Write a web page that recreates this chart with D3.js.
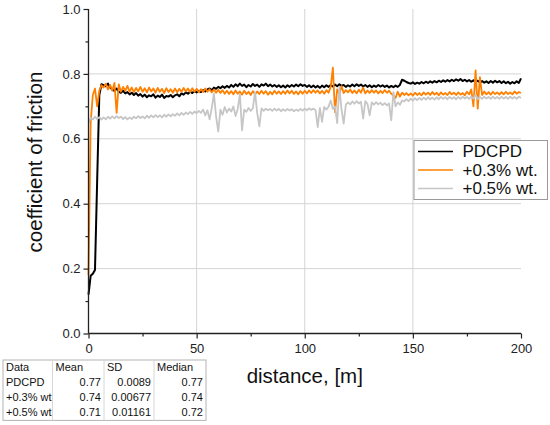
<!DOCTYPE html>
<html>
<head>
<meta charset="utf-8">
<script src="https://cdn.jsdelivr.net/npm/d3@7"></script>
<style>
  body { margin: 0; background: #fff; }
  svg { display: block; font-family: "Liberation Sans", Arial, sans-serif; }
</style>
</head>
<body>
<svg id="chart"></svg>
<script>
// sliding distance, one sample per metre
var distance = d3.range(0, 201);

var seriesNames = ["PDCPD", "+0.3% wt.", "+0.5% wt."];

var pdcpd = [
  0.120, 0.178, 0.184, 0.196, 0.470, 0.735, 0.768, 0.765, 0.762, 0.770,
  0.758, 0.752, 0.748, 0.755, 0.745, 0.742, 0.748, 0.740, 0.744, 0.737,
  0.742, 0.735, 0.741, 0.733, 0.738, 0.730, 0.736, 0.728, 0.734, 0.731,
  0.737, 0.727, 0.733, 0.729, 0.736, 0.726, 0.732, 0.730, 0.735, 0.728,
  0.734, 0.737, 0.731, 0.740, 0.736, 0.743, 0.739, 0.745, 0.741, 0.747,
  0.743, 0.748, 0.744, 0.750, 0.746, 0.752, 0.755, 0.750, 0.758, 0.754,
  0.760, 0.756, 0.762, 0.757, 0.763, 0.758, 0.766, 0.760, 0.768, 0.762,
  0.770, 0.763, 0.767, 0.759, 0.766, 0.761, 0.769, 0.763, 0.767, 0.760,
  0.768, 0.764, 0.770, 0.762, 0.767, 0.761, 0.766, 0.760, 0.765, 0.759,
  0.764, 0.758, 0.765, 0.760, 0.766, 0.761, 0.767, 0.762, 0.768, 0.763,
  0.766, 0.760, 0.765, 0.759, 0.764, 0.758, 0.763, 0.757, 0.764, 0.759,
  0.765, 0.760, 0.766, 0.761, 0.767, 0.762, 0.768, 0.763, 0.766, 0.760,
  0.765, 0.761, 0.767, 0.762, 0.768, 0.763, 0.767, 0.761, 0.766, 0.760,
  0.765, 0.759, 0.764, 0.760, 0.766, 0.761, 0.765, 0.760, 0.764, 0.758,
  0.763, 0.759, 0.764, 0.760, 0.766, 0.782, 0.779, 0.775, 0.772, 0.770,
  0.774, 0.769, 0.773, 0.770, 0.775, 0.771, 0.776, 0.772, 0.777, 0.773,
  0.778, 0.774, 0.779, 0.775, 0.780, 0.776, 0.781, 0.777, 0.782, 0.778,
  0.783, 0.779, 0.784, 0.778, 0.782, 0.777, 0.781, 0.776, 0.780, 0.775,
  0.779, 0.774, 0.778, 0.773, 0.777, 0.772, 0.778, 0.773, 0.779, 0.774,
  0.778, 0.772, 0.777, 0.771, 0.776, 0.770, 0.775, 0.771, 0.777, 0.772,
  0.786
];

var wt03 = [
  0.180, 0.650, 0.735, 0.755, 0.700, 0.748, 0.765, 0.758, 0.770, 0.752,
  0.766, 0.748, 0.772, 0.680, 0.768, 0.745, 0.760, 0.748, 0.763, 0.745,
  0.758, 0.744, 0.757, 0.746, 0.760, 0.745, 0.756, 0.743, 0.758, 0.746,
  0.755, 0.742, 0.757, 0.745, 0.754, 0.741, 0.756, 0.744, 0.753, 0.742,
  0.755, 0.743, 0.754, 0.745, 0.757, 0.746, 0.755, 0.744, 0.756, 0.745,
  0.754, 0.743, 0.753, 0.744, 0.755, 0.745, 0.753, 0.743, 0.752, 0.742,
  0.751, 0.741, 0.750, 0.739, 0.748, 0.738, 0.747, 0.737, 0.749, 0.739,
  0.746, 0.736, 0.748, 0.738, 0.745, 0.735, 0.747, 0.737, 0.746, 0.738,
  0.748, 0.739, 0.747, 0.736, 0.745, 0.737, 0.748, 0.739, 0.746, 0.738,
  0.747, 0.739, 0.749, 0.740, 0.748, 0.738, 0.746, 0.737, 0.747, 0.739,
  0.748, 0.740, 0.749, 0.741, 0.750, 0.742, 0.749, 0.740, 0.748, 0.739,
  0.750, 0.742, 0.760, 0.819, 0.682, 0.752, 0.738, 0.762, 0.741, 0.750,
  0.743, 0.752, 0.741, 0.749, 0.740, 0.751, 0.742, 0.758, 0.740, 0.749,
  0.741, 0.750, 0.742, 0.749, 0.740, 0.748, 0.741, 0.750, 0.742, 0.748,
  0.739, 0.733, 0.726, 0.745, 0.730, 0.742, 0.735, 0.741, 0.734, 0.740,
  0.733, 0.742, 0.735, 0.741, 0.734, 0.743, 0.736, 0.742, 0.735, 0.744,
  0.736, 0.742, 0.734, 0.743, 0.736, 0.741, 0.735, 0.744, 0.737, 0.742,
  0.735, 0.743, 0.736, 0.741, 0.734, 0.745, 0.737, 0.752, 0.700, 0.811,
  0.693, 0.790, 0.735, 0.746, 0.737, 0.744, 0.736, 0.745, 0.738, 0.743,
  0.736, 0.744, 0.737, 0.745, 0.738, 0.743, 0.737, 0.746, 0.739, 0.744,
  0.741
];

var wt05 = [
  0.648, 0.665, 0.660, 0.668, 0.661, 0.667, 0.659, 0.666, 0.660, 0.668,
  0.662, 0.669, 0.663, 0.670, 0.664, 0.668, 0.661, 0.667, 0.660, 0.666,
  0.661, 0.668, 0.663, 0.670, 0.664, 0.669, 0.663, 0.671, 0.665, 0.672,
  0.666, 0.673, 0.667, 0.672, 0.666, 0.674, 0.668, 0.675, 0.669, 0.676,
  0.671, 0.678, 0.672, 0.680, 0.674, 0.681, 0.676, 0.683, 0.677, 0.684,
  0.679, 0.686, 0.680, 0.690, 0.672, 0.688, 0.660, 0.695, 0.739, 0.668,
  0.622, 0.690, 0.674, 0.698, 0.681, 0.693, 0.684, 0.700, 0.670, 0.692,
  0.738, 0.626, 0.690, 0.683, 0.695, 0.686, 0.694, 0.744, 0.680, 0.638,
  0.694, 0.686, 0.693, 0.688, 0.692, 0.686, 0.693, 0.687, 0.692, 0.685,
  0.691, 0.686, 0.692, 0.687, 0.691, 0.685, 0.690, 0.686, 0.692, 0.687,
  0.693, 0.688, 0.694, 0.689, 0.693, 0.688, 0.636, 0.695, 0.652, 0.698,
  0.690, 0.699, 0.718, 0.692, 0.700, 0.648, 0.759, 0.690, 0.647, 0.705,
  0.712, 0.706, 0.715, 0.708, 0.716, 0.709, 0.714, 0.662, 0.716, 0.708,
  0.672, 0.712, 0.705, 0.713, 0.706, 0.711, 0.704, 0.710, 0.703, 0.709,
  0.657, 0.744, 0.700, 0.712, 0.705, 0.718, 0.715, 0.722, 0.716, 0.724,
  0.718, 0.725, 0.719, 0.726, 0.720, 0.727, 0.721, 0.728, 0.722, 0.727,
  0.721, 0.728, 0.722, 0.729, 0.723, 0.728, 0.722, 0.729, 0.723, 0.728,
  0.722, 0.729, 0.723, 0.730, 0.724, 0.729, 0.723, 0.730, 0.724, 0.736,
  0.722, 0.729, 0.723, 0.730, 0.724, 0.729, 0.723, 0.730, 0.724, 0.729,
  0.723, 0.730, 0.724, 0.729, 0.723, 0.730, 0.724, 0.729, 0.723, 0.730,
  0.726
];

var xTicks = [0, 50, 100, 150, 200];
var xMinorTicks = [25, 75, 125, 175];
var yTicks = [0.0, 0.2, 0.4, 0.6, 0.8, 1.0];
var yMinorTicks = [0.1, 0.3, 0.5, 0.7, 0.9];

// summary table under the axis
var tableHeader = ["Data", "Mean", "SD", "Median"];
var tableNames = ["PDCPD", "+0.3% wt", "+0.5% wt"];
var tableMean = ["0.77", "0.74", "0.71"];
var tableSD = ["0.0089", "0.00677", "0.01161"];
var tableMedian = ["0.77", "0.74", "0.72"];

var width = 550, height = 425;
var plotLeft = 88.5, plotRight = 521, plotTop = 9, plotBottom = 333.5;
var colors = ["#000000", "#ff8000", "#c6c6c6"];

var svg = d3.select("#chart").attr("width", width).attr("height", height);

var x = d3.scaleLinear().domain([0, 200]).range([plotLeft, plotRight]);
var y = d3.scaleLinear().domain([0, 1]).range([plotBottom, plotTop]);

// grid
svg.append("g").selectAll("line").data([50, 100, 150]).enter().append("line")
    .attr("x1", function (d) { return x(d); }).attr("x2", function (d) { return x(d); })
    .attr("y1", plotTop).attr("y2", plotBottom)
    .style("stroke", "#d4d4d4").style("stroke-width", 1);
svg.append("g").selectAll("line").data([0.2, 0.4, 0.6, 0.8]).enter().append("line")
    .attr("x1", plotLeft).attr("x2", plotRight)
    .attr("y1", function (d) { return y(d); }).attr("y2", function (d) { return y(d); })
    .style("stroke", "#d4d4d4").style("stroke-width", 1);

// data lines
var line = d3.line()
    .x(function (d, i) { return x(distance[i]); })
    .y(function (d) { return y(d); });

var allSeries = [pdcpd, wt03, wt05];
for (var i = 0; i < allSeries.length; i++) {
    svg.append("path")
        .datum(allSeries[i])
        .attr("d", line)
        .style("fill", "none")
        .style("stroke", colors[i])
        .style("stroke-width", i == 0 ? 2 : 1.8)
        .style("stroke-linejoin", "round");
}

// axes
var xAxis = svg.append("g").attr("transform", "translate(0," + plotBottom + ")")
    .call(d3.axisBottom(x).tickValues(xTicks).tickSize(5).tickPadding(5)
        .tickFormat(d3.format("d")));
svg.append("g").attr("transform", "translate(0," + plotBottom + ")")
    .call(d3.axisBottom(x).tickValues(xMinorTicks).tickSize(3).tickFormat(""))
    .select(".domain").remove();

var yAxis = svg.append("g").attr("transform", "translate(" + plotLeft + ",0)")
    .call(d3.axisLeft(y).tickValues(yTicks).tickSize(5).tickPadding(3)
        .tickFormat(d3.format(".1f")));
svg.append("g").attr("transform", "translate(" + plotLeft + ",0)")
    .call(d3.axisLeft(y).tickValues(yMinorTicks).tickSize(3).tickFormat(""))
    .select(".domain").remove();

svg.selectAll(".domain").remove();
xAxis.append("line").attr("x1", plotLeft).attr("x2", plotRight).attr("y1", 0).attr("y2", 0)
    .style("stroke", "#222").style("stroke-width", 1.3);
yAxis.append("line").attr("x1", 0).attr("x2", 0).attr("y1", plotTop).attr("y2", plotBottom)
    .style("stroke", "#222").style("stroke-width", 1.3);
svg.selectAll(".tick line").style("stroke", "#222").style("stroke-width", 1.2);
svg.selectAll(".tick text").style("font-size", "13px").style("fill", "#222")
    .style("font-family", "Liberation Sans, Arial, sans-serif");

// axis titles
svg.append("text")
    .attr("x", (plotLeft + plotRight) / 2).attr("y", 383)
    .attr("text-anchor", "middle")
    .style("font-size", "20.5px").style("fill", "#111")
    .text("distance, [m]");
svg.append("text")
    .attr("transform", "translate(41.5,162) rotate(-90)")
    .attr("text-anchor", "middle")
    .style("font-size", "20.5px").style("fill", "#111")
    .text("coefficient of friction");

// legend
var legend = svg.append("g").attr("transform", "translate(414,140.5)");
legend.append("rect").attr("width", 133.5).attr("height", 59)
    .style("fill", "#fff").style("stroke", "#9a9a9a").style("stroke-width", 1);
for (var k = 0; k < seriesNames.length; k++) {
    var ly = 11 + k * 18.5;
    legend.append("line").attr("x1", 4).attr("x2", 39).attr("y1", ly).attr("y2", ly)
        .style("stroke", colors[k]).style("stroke-width", 1.5);
    legend.append("text").attr("x", 48.5).attr("y", ly + 5.5)
        .style("font-size", "17px").style("fill", "#111")
        .text(seriesNames[k]);
}

// stats table
var colX = [3, 52.5, 104, 154, 206];
var rowH = 15.1;
var table = svg.append("g").attr("transform", "translate(0,360)");
table.append("rect").attr("x", colX[0]).attr("y", 0)
    .attr("width", colX[4] - colX[0]).attr("height", rowH * 4)
    .style("fill", "#fff").style("stroke", "#b4b4b4").style("stroke-width", 1);
for (var c = 1; c < 4; c++) {
    table.append("line").attr("x1", colX[c]).attr("x2", colX[c])
        .attr("y1", 0).attr("y2", rowH * 4)
        .style("stroke", "#d8d8d8").style("stroke-width", 1);
}
var tableCols = [tableNames, tableMean, tableSD, tableMedian];
for (var c = 0; c < 4; c++) {
    table.append("text").attr("x", colX[c] + 3).attr("y", 11)
        .style("font-size", "11px").style("fill", "#111")
        .text(tableHeader[c]);
    for (var r = 0; r < tableNames.length; r++) {
        table.append("text")
            .attr("x", c == 0 ? colX[c] + 3 : colX[c + 1] - 3)
            .attr("y", 11 + (r + 1) * rowH)
            .attr("text-anchor", c == 0 ? "start" : "end")
            .style("font-size", "11px").style("fill", "#111")
            .text(tableCols[c][r]);
    }
}
</script>
</body>
</html>
